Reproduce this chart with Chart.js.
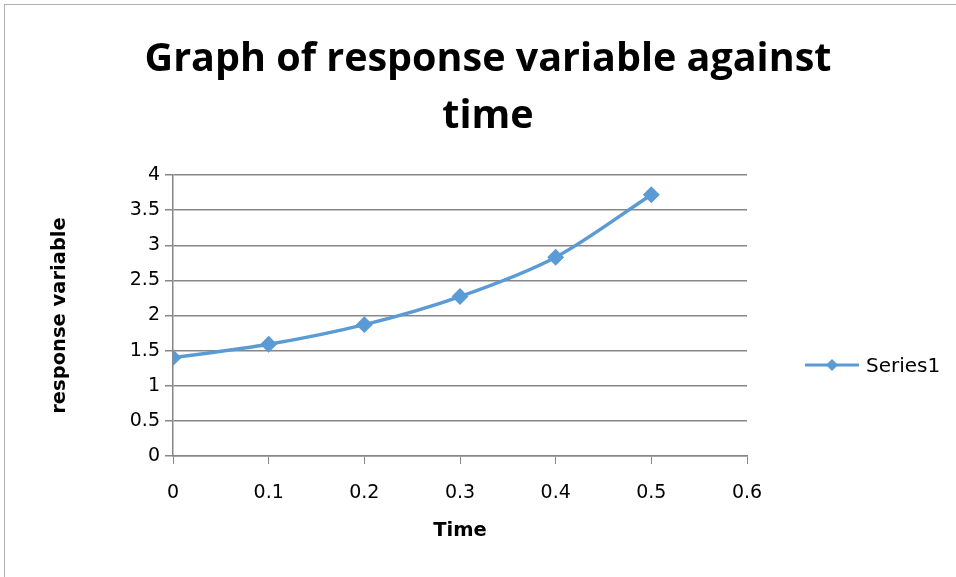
<!DOCTYPE html>
<html>
<head>
<meta charset="utf-8">
<script src="https://cdn.jsdelivr.net/npm/chart.js@4/dist/chart.umd.min.js"></script>
<style>
  html, body { margin: 0; padding: 0; background: #fff; overflow: hidden; }
  #wrap { position: relative; width: 956px; height: 577px; }
  #frame { position: absolute; left: 4px; top: 4px; width: 1000px; height: 1000px; border: 1px solid #b0b0b0; }
  #titulo { position: absolute; left: 0; width: 976px; top: 28px; text-align: center;
    font-family: "Open Sans", sans-serif; font-weight: 700; font-size: 38px; line-height: 57px; color: #000; }
  #legenda { position: absolute; left: 805px; top: 353px; display: flex; align-items: center;
    font-family: "DejaVu Sans", sans-serif; font-size: 20px; color: #000; }
  #legenda canvas { margin-right: 7px; }
  #grafico { position: absolute; left: 0; top: 0; }
</style>
</head>
<body>
<div id="wrap">
  <div id="frame"></div>
  <canvas id="grafico" width="956" height="577"></canvas>
  <div id="titulo"><span id="tl1">Graph of response variable against</span><br>time</div>
  <div id="legenda"><canvas id="leg-mark" width="54" height="14"></canvas><span>Series1</span></div>
</div>
<script>
// valores
const tempos = [0, 0.1, 0.2, 0.3, 0.4, 0.5];
const respostas = [1.40, 1.59, 1.87, 2.27, 2.83, 3.72];
const nomeSerie = 'Series1';
const eixoX = { min: 0, max: 0.6, passo: 0.1, titulo: 'Time' };
const eixoY = { min: 0, max: 4, passo: 0.5, titulo: 'response variable' };

const AZUL = '#5B9BD5';
const CINZA = '#878787';

// ajusta o tamanho do título para a largura da primeira linha (~686px)
(function ajustaTitulo() {
  const c = document.createElement('canvas').getContext('2d');
  c.font = '700 100px "Open Sans"';
  const w = c.measureText(document.getElementById('tl1').textContent).width;
  document.getElementById('titulo').style.fontSize = (100 * 686 / w).toFixed(1) + 'px';
})();

// marcador da legenda: linha + losango
(function desenhaLegenda() {
  const c = document.getElementById('leg-mark').getContext('2d');
  c.strokeStyle = AZUL; c.lineWidth = 3;
  c.beginPath(); c.moveTo(0, 7); c.lineTo(54, 7); c.stroke();
  c.fillStyle = AZUL;
  c.beginPath(); c.moveTo(27, 1); c.lineTo(33, 7); c.lineTo(27, 13); c.lineTo(21, 7); c.closePath(); c.fill();
})();

const fonteTicks = { family: '"DejaVu Sans", sans-serif', size: 19 };
const fonteTitulo = { family: '"DejaVu Sans", sans-serif', size: 19.5, weight: 'bold' };
const rotulo = v => String(+Number(v).toFixed(1));

new Chart(document.getElementById('grafico'), {
  type: 'line',
  data: {
    datasets: [{
      label: nomeSerie,
      data: tempos.map((t, i) => ({ x: t, y: respostas[i] })),
      borderColor: AZUL, backgroundColor: AZUL, borderWidth: 3.5,
      pointStyle: 'rectRot', pointRadius: 6, pointHoverRadius: 6,
      tension: 0.3, fill: false
    }]
  },
  options: {
    responsive: false, animation: false,
    layout: { padding: { left: 0, top: 175, right: 209, bottom: 0 } },
    plugins: { legend: { display: false }, title: { display: false }, tooltip: { enabled: false } },
    scales: {
      x: {
        type: 'linear', min: eixoX.min, max: eixoX.max,
        ticks: { stepSize: eixoX.passo, color: '#000', font: fonteTicks, padding: 18, maxRotation: 0, callback: rotulo },
        grid: { drawOnChartArea: false, drawTicks: true, tickLength: 8, color: CINZA },
        border: { color: CINZA, width: 1.5 },
        title: { display: true, text: eixoX.titulo, color: '#000', font: fonteTitulo, padding: { top: 0, bottom: 34 } },
        afterFit: s => { s.height = 121; }
      },
      y: {
        min: eixoY.min, max: eixoY.max,
        ticks: { stepSize: eixoY.passo, color: '#000', font: fonteTicks, padding: 5, callback: rotulo },
        grid: { color: CINZA, lineWidth: 1.5, tickLength: 8 },
        border: { color: CINZA, width: 1.5 },
        title: { display: true, text: eixoY.titulo, color: '#000', font: fonteTitulo, padding: { top: 48, bottom: 0 } },
        afterFit: s => { s.width = 173; }
      }
    }
  }
});
</script>
</body>
</html>
